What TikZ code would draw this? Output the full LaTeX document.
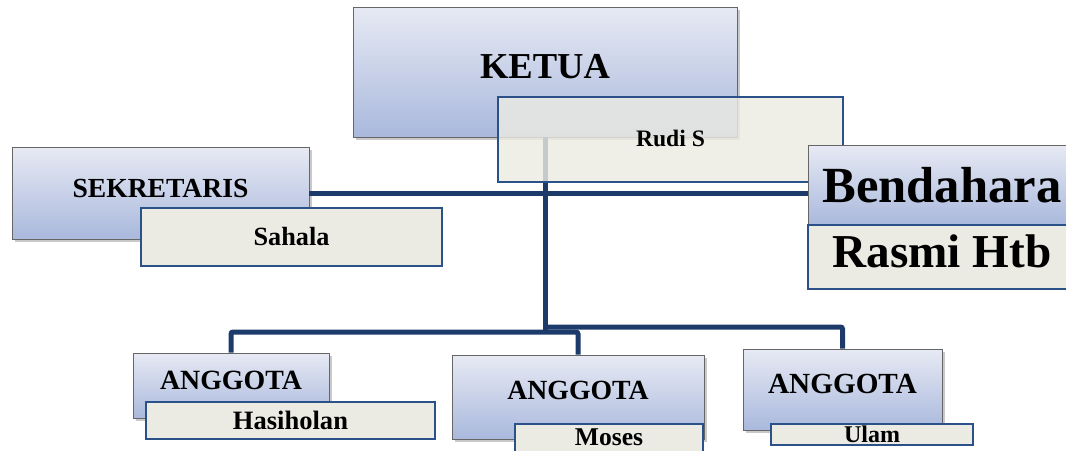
\documentclass[tikz,border=0pt]{standalone}
\usepackage{fontspec}
\setmainfont{Liberation Serif}
\usetikzlibrary{shadows}
\definecolor{boxtop}{HTML}{E7EAF4}
\definecolor{boxbottom}{HTML}{A9B8DC}
\definecolor{namefill}{HTML}{EBEBE3}
\definecolor{nameline}{HTML}{2B5189}
\definecolor{linknavy}{HTML}{1C3B6B}

\begin{document}
\begin{tikzpicture}[x=0.75pt,y=-0.75pt]
	\tikzset{role/.style={draw=black!60, line width=0.6pt, top color=boxtop, bottom color=boxbottom, drop shadow={shadow xshift=2.5pt, shadow yshift=-2.5pt, opacity=0.3, fill=black!70}, inner sep=0pt}}
	\tikzset{holder/.style={draw=nameline, line width=1pt, fill=namefill, inner sep=0pt}}
	\tikzset{link/.style={draw=linknavy, line width=3.75pt, rounded corners=1.5pt}}
	\tikzset{fs/.style={font=\bfseries\fontsize{#1}{#1}\selectfont}}

	\clip (0,0) rectangle (1066,450);

	% ketua
	\node[role, fs=27.4, minimum width=288pt, minimum height=97.5pt, text depth=9pt] (ketua) at (545,72) {KETUA};
	\draw[link] (ketua.south) -- (545,332);
	\node[holder, fs=17.7, fill opacity=0.82, text opacity=1, minimum width=258.75pt, minimum height=63.75pt, text depth=2pt] (rudi) at (670.5,139.5) {Rudi S};

	% sekretaris, bendahara
	\node[role, fs=20.7, minimum width=222.75pt, minimum height=69pt, text depth=7.5pt] (sekretaris) at (160.5,193) {SEKRETARIS};
	\node[holder, fs=19.7, minimum width=225.75pt, minimum height=43.5pt] (sahala) at (291.5,237) {Sahala};
	\node[role, fs=38, minimum width=201pt, minimum height=60pt] (bendahara) at (942,185) {Bendahara};
	\node[holder, fs=35.4, minimum width=201pt, minimum height=48pt, text depth=9pt] (rasmi) at (942,257) {Rasmi Htb};
	\draw[link] (sekretaris.east) -- (sekretaris.east -| bendahara.west);

	% anggota
	\node[role, fs=20.9, minimum width=147pt, minimum height=48.75pt, text depth=8pt] (anggota1) at (231,385.5) {ANGGOTA};
	\node[holder, fs=19.9, minimum width=216.75pt, minimum height=27.75pt] (hasiholan) at (290.5,420.5) {Hasiholan};
	\node[role, fs=20.8, minimum width=189pt, minimum height=63pt, text depth=10pt] (anggota2) at (578,397) {ANGGOTA};
	\node[holder, fs=19.2, minimum width=141pt, minimum height=25.5pt, text depth=6pt] (moses) at (609,441) {Moses};
	\node[role, fs=21.9, minimum width=149.25pt, minimum height=60.75pt, text depth=9pt] (anggota3) at (842.5,389.5) {ANGGOTA};
	\node[holder, fs=18, minimum width=151.5pt, minimum height=15.75pt] (ulam) at (872,434.5) {Ulam};

	\coordinate (busR) at (545,327);
	\coordinate (busL) at (545,332);
	\draw[link] (busR) -| (anggota3.north);
	\draw[link] (anggota1.north) |- (busL) -| (anggota2.north);

\end{tikzpicture}
\end{document}
